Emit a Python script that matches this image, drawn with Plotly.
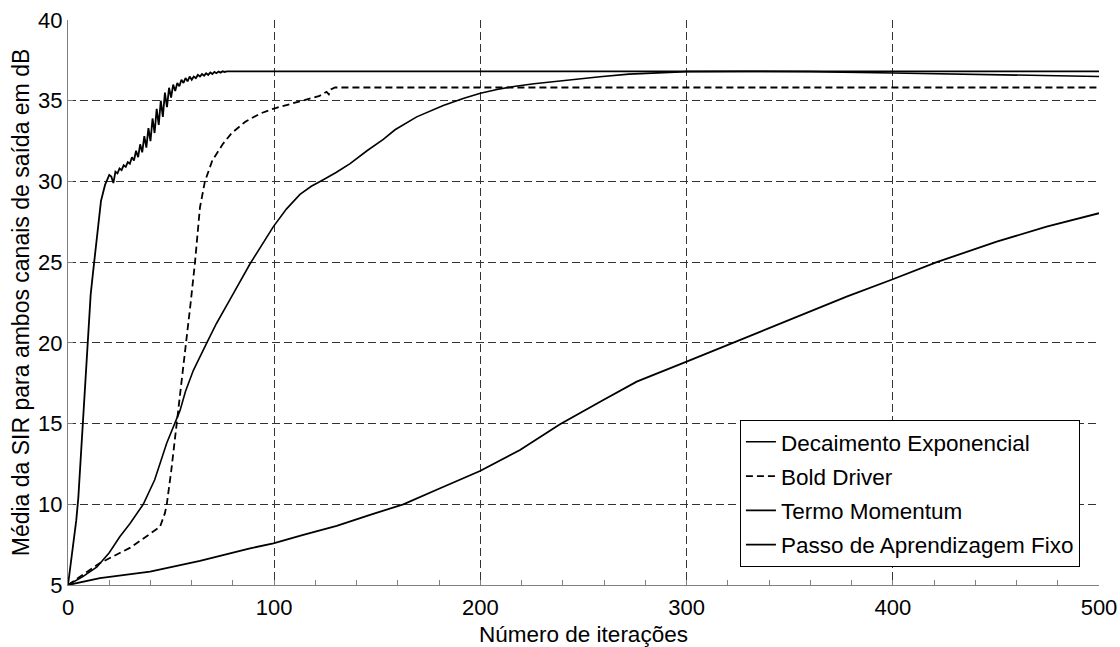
import plotly.graph_objects as go

# ---------------- data ----------------
# Decaimento Exponencial (middle solid curve)
dec_x = [0, 7, 13.9, 20, 25.2, 30, 36.5, 42, 47.9, 54.3, 57, 60.8, 67.3, 72, 78.6,
         88.3, 99.6, 106, 112.5, 118, 123.8, 130, 136.8, 145, 152.9, 158.6, 169.1,
         182, 192, 200, 208, 217, 226, 240, 258, 272, 285.5, 300, 330, 360, 400,
         450, 500]
dec_y = [5.0, 5.5, 6.1, 7.0, 8.0, 8.8, 10.0, 11.5, 13.8, 15.8, 17.0, 18.3, 20.0,
         21.2, 22.7, 24.9, 27.2, 28.3, 29.2, 29.7, 30.1, 30.55, 31.1, 31.9, 32.6,
         33.2, 34.0, 34.7, 35.15, 35.46, 35.7, 35.9, 36.05, 36.25, 36.48, 36.65,
         36.74, 36.8, 36.82, 36.8, 36.72, 36.62, 36.5]

# Bold Driver (dashed)
bold_x = [0, 5.8, 15.5, 30, 39.8, 44.6, 47, 47.9, 50, 52.7, 55, 57.5, 59.5, 61.6,
          63, 64, 66.4, 70, 75, 79.4, 86, 93.1, 99.5, 105, 112.5, 118, 122, 125.4,
          126.5, 127.5, 129.5, 500]
bold_y = [5.0, 5.5, 6.36, 7.3, 8.2, 8.6, 9.45, 10.0, 12.0, 15.0, 17.5, 20.0, 22.5,
          25.0, 27.0, 28.4, 30.0, 31.3, 32.3, 33.0, 33.7, 34.2, 34.5, 34.7, 34.95,
          35.15, 35.3, 35.55, 35.4, 35.7, 35.82, 35.82]

# Termo Momentum (fast, oscillating)
mom_x = [0, 2, 4, 5, 6, 7, 8, 9, 10, 11, 12, 13, 14, 15, 16, 17, 18, 19,
         20, 21, 22, 23, 24, 25, 26, 27, 28, 29, 30, 31, 32, 33, 34, 35, 36, 37,
         38, 39, 40, 41, 42, 43, 44, 45, 46, 47, 48, 49, 50, 51, 52, 53, 54, 55,
         56, 57, 58, 59, 60, 61, 62, 63, 64, 65, 66, 67, 68, 69, 70, 71, 72, 73,
         74, 75, 76, 77, 78, 79, 80, 500]
mom_y = [5.0, 7.0, 9.0, 10.4, 12.5, 14.6, 16.8, 19.2, 21.3, 23.0, 24.2, 25.4, 26.6,
         27.8, 28.8, 29.3, 29.8, 30.1,
         30.4, 30.3, 29.9, 30.6, 30.5, 30.8, 30.7, 31.0, 30.9, 31.2, 31.1, 31.5,
         31.3, 31.9, 31.5, 32.3, 31.8, 32.8, 32.1, 33.3, 32.5, 33.9, 33.0, 34.5,
         33.5, 35.0, 34.0, 35.5, 34.6, 35.8, 35.2, 36.0, 35.6, 36.1, 35.9, 36.3,
         36.1, 36.4, 36.2, 36.5, 36.3, 36.5, 36.4, 36.6, 36.5, 36.65, 36.55, 36.7,
         36.6, 36.75, 36.65, 36.78, 36.7, 36.8, 36.74, 36.82, 36.78, 36.82, 36.8,
         36.82, 36.82, 36.82]

# Passo de Aprendizagem Fixo (slow)
fix_x = [0, 15.5, 39.8, 64, 88.3, 99.6, 114.1, 130.3, 146.5, 162.6, 178.8, 199.8,
         219.2, 238.6, 259.6, 275.8, 300, 322.6, 353.4, 377.6, 400, 421.3, 450.4,
         474.6, 500]
fix_y = [5.0, 5.42, 5.83, 6.49, 7.27, 7.58, 8.1, 8.66, 9.34, 10.0, 10.9, 12.06,
         13.36, 14.96, 16.46, 17.6, 18.84, 20.0, 21.6, 22.86, 23.94, 25.0, 26.27,
         27.2, 28.03]

names = ["Decaimento Exponencial", "Bold Driver", "Termo Momentum",
         "Passo de Aprendizagem Fixo"]
x_ticks = [0, 100, 200, 300, 400, 500]
y_ticks = [5, 10, 15, 20, 25, 30, 35, 40]

FONT = "Liberation Sans, Arial, Helvetica, sans-serif"

fig = go.Figure()
series = [(dec_x, dec_y, "solid", 1.6), (bold_x, bold_y, "7px,4px", 1.8),
          (mom_x, mom_y, "solid", 1.8), (fix_x, fix_y, "solid", 1.8)]
for i, ((xs, ys, dash, w), nm) in enumerate(zip(series, names)):
    fig.add_trace(go.Scatter(x=xs, y=ys, mode="lines", name=nm, legendgroup=f"g{i}",
                             line=dict(color="black", width=w, dash=dash)))

fig.update_layout(
    width=1120, height=647,
    margin=dict(l=68, r=21, t=20, b=62),
    paper_bgcolor="white", plot_bgcolor="white",
    font=dict(family=FONT, size=22, color="black"),
    showlegend=True,
    legend=dict(x=0.9815, y=0.0324, xanchor="right", yanchor="bottom",
                bgcolor="white", bordercolor="black", borderwidth=1,
                font=dict(size=22.5, family=FONT), tracegroupgap=2,
                itemwidth=30),
)
fig.update_xaxes(
    range=[0, 500], tickvals=x_ticks, ticktext=[str(v) for v in x_ticks],
    showgrid=True, gridcolor="#333333", griddash="8px,4px", gridwidth=1,
    showline=True, linecolor="#808080", linewidth=1,
    ticks="inside", ticklen=5, tickcolor="#808080",
    minor=dict(dtick=20, tick0=0, ticks="inside", ticklen=5, tickcolor="#808080",
               showgrid=False),
    zeroline=False, automargin=False, ticklabelstandoff=3,
    title=dict(text="Número de iterações", standoff=8,
               font=dict(size=22.5, family=FONT)),
    tickfont=dict(size=22, family=FONT),
)
fig.update_yaxes(
    range=[5, 40], tickvals=y_ticks, ticktext=[str(v) for v in y_ticks],
    showgrid=True, gridcolor="#333333", griddash="8px,4px", gridwidth=1,
    showline=True, linecolor="#808080", linewidth=1,
    ticks="inside", ticklen=5, tickcolor="#808080",
    zeroline=False, automargin=False,
    title=dict(text="Média da SIR para ambos canais de saída em dB", standoff=2,
               font=dict(size=23, family=FONT)),
    tickfont=dict(size=22, family=FONT),
)

fig.write_html("out.html")
